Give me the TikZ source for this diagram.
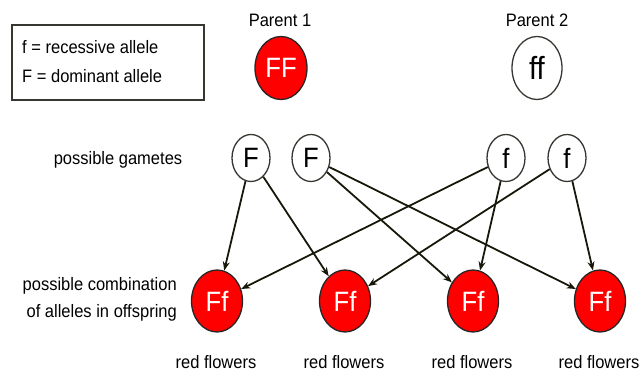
\documentclass[tikz,border=0pt]{standalone}
\usepackage{fontspec}
\setmainfont[FakeStretch=0.917]{Liberation Sans}
\usetikzlibrary{shapes.geometric,arrows.meta}
\definecolor{edgecol}{RGB}{24,24,10}
\definecolor{rimcol}{RGB}{55,55,50}
\definecolor{redfill}{RGB}{255,0,0}
\begin{document}
\begin{tikzpicture}[x=1pt,y=-1pt,
  lbl/.style={inner sep=0pt,font=\fontsize{18}{20}\selectfont},
  whitecirc/.style={ellipse,draw=rimcol,line width=1.3pt,fill=white,inner sep=0pt,font=\fontsize{28}{30}\selectfont},
  redcirc/.style={ellipse,draw=black!85,line width=1.3pt,fill=redfill,text=white,inner sep=0pt,font=\fontsize{28}{30}\selectfont},
  gam/.style={whitecirc,minimum width=38pt,minimum height=47pt},
  off/.style={redcirc,minimum width=51pt,minimum height=62pt},
  link/.style={draw=edgecol,line width=1.8pt,-{Stealth[length=9pt,width=7pt]}}]
\useasboundingbox (0,0) rectangle (643,374);
% legend
\node[draw=rimcol,line width=1.3pt,minimum width=192pt,minimum height=75pt,inner sep=0pt] (legend) at (108,62.5) {};
\node[lbl,anchor=west] (leg1) at (22,47) {f = recessive allele};
\node[lbl,anchor=west] (leg2) at (22,76) {F = dominant allele};
% parents
\node[lbl] (p1lbl) at (280,20) {Parent 1};
\node[lbl] (p2lbl) at (537,20) {Parent 2};
\node[redcirc,minimum width=52pt,minimum height=63pt] (P1) at (281,68) {FF};
\node[whitecirc,minimum width=50pt,minimum height=63pt,font=\fontsize{32}{34}\selectfont] (P2) at (537,68) {ff};
% gametes
\node[lbl] (gamlbl) at (118,160) {possible gametes};
\node[gam] (g1) at (251,158) {F};
\node[gam] (g2) at (311,158) {F};
\node[gam] (g3) at (506,158) {f};
\node[gam] (g4) at (567,158) {f};
% offspring
\node[lbl,anchor=east] (comb1) at (177,286) {possible combination};
\node[lbl,anchor=east] (comb2) at (177,313) {of alleles in offspring};
\node[off] (o1) at (217,301) {Ff};
\node[off] (o2) at (345,301) {Ff};
\node[off] (o3) at (473,301) {Ff};
\node[off] (o4) at (600,301) {Ff};
\node[lbl] (r1) at (216,362) {red flowers};
\node[lbl] (r2) at (344,362) {red flowers};
\node[lbl] (r3) at (472,362) {red flowers};
\node[lbl] (r4) at (599,362) {red flowers};
% connectors
\draw[link] (g1) -- (o1);
\draw[link] (g1) -- (o2);
\draw[link] (g2) -- (o3);
\draw[link] (g2) -- (o4);
\draw[link] (g3) -- (o1);
\draw[link] (g3) -- (o3);
\draw[link] (g4) -- (o2);
\draw[link] (g4) -- (o4);
\end{tikzpicture}
\end{document}
